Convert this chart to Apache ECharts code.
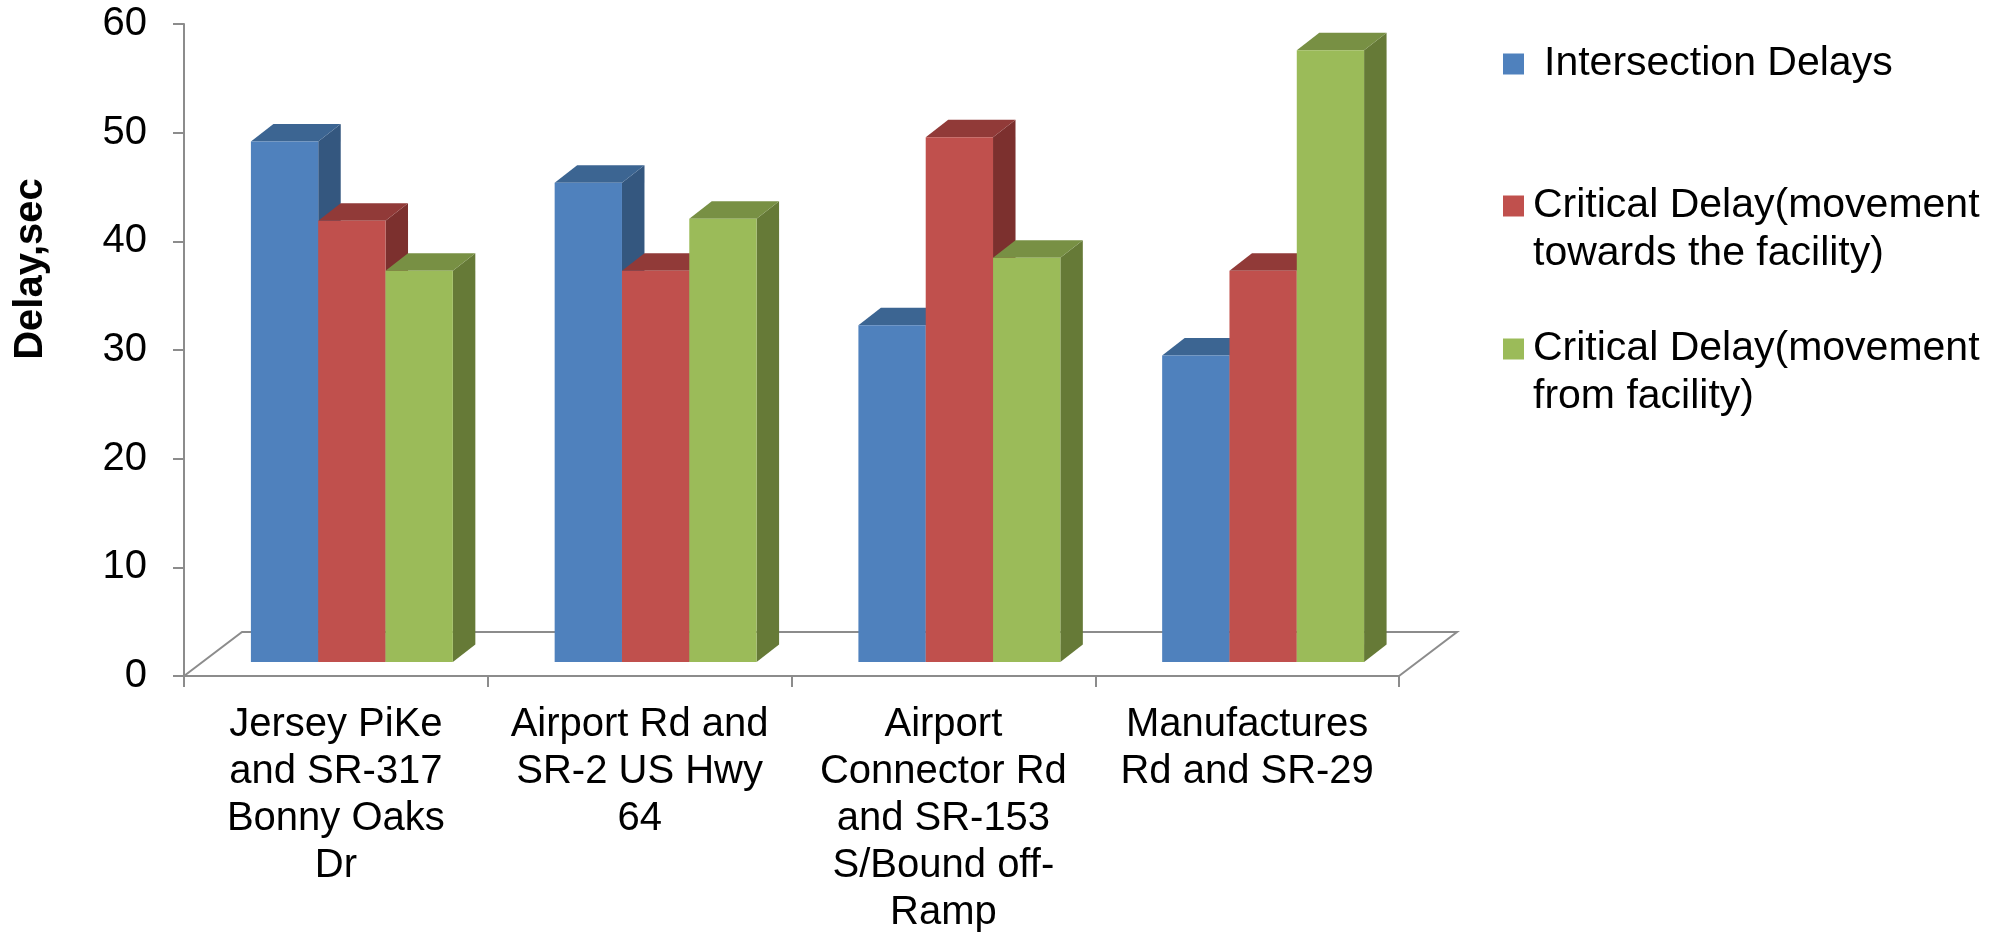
<!DOCTYPE html>
<html><head><meta charset="utf-8">
<script src="https://cdn.jsdelivr.net/npm/echarts@6/dist/echarts.min.js"></script>
<style>html,body{margin:0;padding:0;background:#fff;}#c{width:2003px;height:936px;}</style>
</head><body><div id="c"></div>
<script>
// ---- data ----
const categories = [
  'Jersey PiKe\nand SR-317\nBonny Oaks\nDr',
  'Airport Rd and\nSR-2 US Hwy\n64',
  'Airport\nConnector Rd\nand SR-153\nS/Bound off-\nRamp',
  'Manufactures\nRd and SR-29'
];
const seriesNames = [
  'Intersection Delays',
  'Critical Delay(movement\ntowards the facility)',
  'Critical Delay(movement\nfrom facility)'
];
const intersectionDelays = [47.9, 44.1, 31.0, 28.2];
const criticalTowards   = [40.6, 36.0, 48.3, 36.0];
const criticalFrom      = [36.0, 40.8, 37.2, 56.3];
const yMin = 0, yMax = 60, yInterval = 10;
const yAxisTitle = 'Delay,sec';

// ---- styles ----
const FONT = '"Liberation Sans", Arial, sans-serif';
const palette = [
  {front:'#4F81BD', top:'#3C6592', side:'#34577F'},
  {front:'#C0504D', top:'#913A38', side:'#7C302E'},
  {front:'#9BBB59', top:'#789044', side:'#667A37'}
];
const BAR_FRAC = 0.2216;   // bar width as share of a category band
const GROUP_SHIFT = 16;    // px, group shift to the bar plane
const FRONT_DY = 14;       // px, bar front plane raised above front axis
const DX = 22.5, DY = 17.5; // bar depth
const FDX = 58, FDY = 44;   // floor depth
const AXIS_COLOR = '#8c8c8c';

function barRenderer(si) {
  const c = palette[si];
  return function (params, api) {
    const ci = api.value(0), v = api.value(1);
    const base = api.coord([ci, 0]);
    const tp = api.coord([ci, v]);
    const band = api.size([1, 0])[0];
    const w = band * BAR_FRAC;
    const x = base[0] + GROUP_SHIFT - 1.5 * w + si * w;
    const yb = base[1] - FRONT_DY;
    const yt = tp[1] - FRONT_DY;
    return {type: 'group', children: [
      {type: 'polygon', shape: {points: [[x + w, yt], [x + w + DX, yt - DY], [x + w + DX, yb - DY], [x + w, yb]]}, style: {fill: c.side}},
      {type: 'polygon', shape: {points: [[x, yt], [x + DX, yt - DY], [x + w + DX, yt - DY], [x + w, yt]]}, style: {fill: c.top}},
      {type: 'rect', shape: {x: x, y: yt, width: w, height: yb - yt}, style: {fill: c.front}}
    ]};
  };
}

function floorRenderer(params, api) {
  const band = api.size([1, 0])[0];
  const a = api.coord([0, 0]);
  const b = api.coord([categories.length - 1, 0]);
  const x0 = a[0] - band / 2, x1 = b[0] + band / 2, y0 = a[1];
  return {type: 'polyline', shape: {points: [[x0, y0], [x0 + FDX, y0 - FDY], [x1 + FDX, y0 - FDY], [x1, y0]]},
    style: {stroke: AXIS_COLOR, lineWidth: 2, fill: null}};
}

const valueSets = [intersectionDelays, criticalTowards, criticalFrom];
const series = [{
  type: 'custom', name: '__floor', silent: true, clip: false,
  data: [[0, 0]], encode: {x: 0, y: 1}, renderItem: floorRenderer, z: 1
}];
valueSets.forEach((vals, si) => {
  series.push({
    type: 'custom', name: seriesNames[si], clip: false, z: 2,
    itemStyle: {color: palette[si].front},
    data: vals.map((v, i) => [i, v]),
    encode: {x: 0, y: 1},
    renderItem: barRenderer(si)
  });
});

const legendBase = {
  orient: 'vertical', left: 1503, padding: 0, icon: 'rect',
  itemWidth: 21, itemHeight: 21, selectedMode: false
};
const legendText = (padLeft) => ({fontSize: 41, fontFamily: FONT, color: '#000', lineHeight: 48, padding: [0, 0, 0, padLeft]});
// two-line names: a blank first line keeps the swatch level with the first text line
const firstLineAligned = (name) => '\n' + name;

const option = {
  backgroundColor: '#fff',
  animation: false,
  grid: {left: 184, right: 604, top: 24, bottom: 259, containLabel: false},
  xAxis: {
    type: 'category', data: categories, boundaryGap: true,
    axisLine: {show: true, lineStyle: {color: AXIS_COLOR, width: 2}},
    axisTick: {show: true, length: 11, alignWithLabel: false, lineStyle: {color: AXIS_COLOR, width: 2}},
    axisLabel: {interval: 0, margin: 25, fontSize: 40, lineHeight: 47, color: '#000', fontFamily: FONT, align: 'center'},
    splitLine: {show: false}
  },
  yAxis: {
    type: 'value', min: yMin, max: yMax, interval: yInterval,
    name: yAxisTitle, nameLocation: 'middle', nameRotate: 90, nameGap: 133,
    nameTextStyle: {fontSize: 40, fontWeight: 'bold', fontFamily: FONT, color: '#000', padding: [0, 0, 0, 162]},
    axisLine: {show: true, lineStyle: {color: AXIS_COLOR, width: 2}},
    axisTick: {show: true, length: 11, lineStyle: {color: AXIS_COLOR, width: 2}},
    axisLabel: {margin: 37, fontSize: 40, color: '#000', fontFamily: FONT},
    splitLine: {show: false}
  },
  legend: [
    Object.assign({}, legendBase, {data: [seriesNames[0]], top: 64 - 24, textStyle: legendText(15)}),
    Object.assign({}, legendBase, {data: [seriesNames[1]], top: 206 - 72, textStyle: legendText(4), formatter: firstLineAligned}),
    Object.assign({}, legendBase, {data: [seriesNames[2]], top: 349 - 72, textStyle: legendText(4), formatter: firstLineAligned})
  ],
  series: series
};

const chart = echarts.init(document.getElementById('c'), null, {renderer: 'canvas'});
chart.setOption(option);
</script>
</body></html>
